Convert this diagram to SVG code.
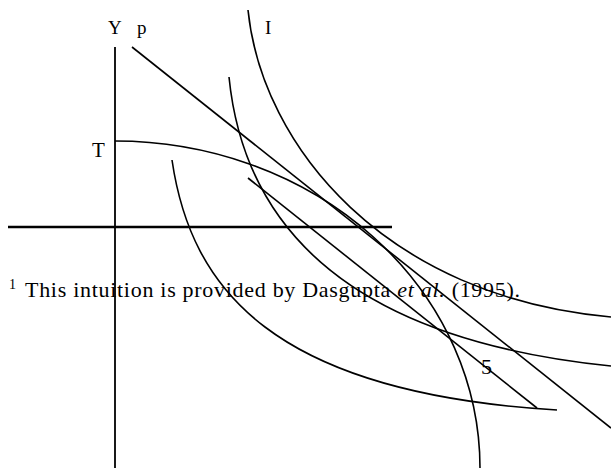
<svg xmlns="http://www.w3.org/2000/svg" width="611" height="468" viewBox="0 0 611 468">
<style>
.ln{fill:none;stroke:#000;stroke-width:1.6}
.ax{fill:none;stroke:#000;stroke-width:1.8}
.hz{fill:none;stroke:#000;stroke-width:2.4}
.t{font-family:"Liberation Serif","Times New Roman",serif;fill:#000}
</style>
<rect width="611" height="468" fill="#fff"/>
<g id="axes">
<line class="ax" x1="115" y1="47" x2="115" y2="468"/>
<line class="hz" x1="8" y1="227" x2="392" y2="227"/>
</g>
<g id="connectors">
<line id="p-line" class="ln" x1="132" y1="47" x2="611" y2="428"/>
<line id="p2-line" class="ln" x1="248" y1="178" x2="537" y2="408"/>
</g>
<g id="T-curve"><path class="ln" d="M115,141 A365,327 0 0 1 480,468"/></g>
<g id="I-curve"><path class="ln" d="M248,10 C262,147 386,297 611,317"/></g>
<g id="curve2"><path class="ln" d="M229,77 C244.5,232 355.5,340 611,366"/></g>
<g id="curve3"><path class="ln" d="M172,160 C190.8,289 272.8,393 557,410"/></g>
<g id="labels">
<text class="t" x="108" y="34" font-size="19">Y</text>
<text class="t" x="137" y="34" font-size="19">p</text>
<text class="t" x="265" y="34" font-size="19">I</text>
<text class="t" x="92" y="157" font-size="21">T</text>
<text class="t" x="481" y="374" font-size="22">5</text>
</g>
<g id="footnote">
<text class="t" x="9" y="289" font-size="14">1</text>
<text class="t" x="25" y="297" font-size="22" textLength="495" lengthAdjust="spacing">This intuition is provided by Dasgupta <tspan font-style="italic">et al.</tspan> (1995).</text>
</g>
</svg>
